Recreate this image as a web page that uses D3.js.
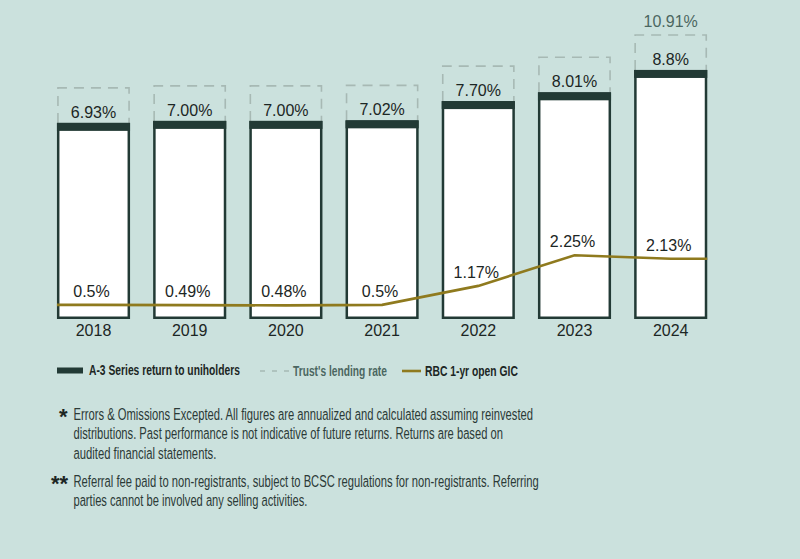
<!DOCTYPE html>
<html><head><meta charset="utf-8">
<script src="https://cdn.jsdelivr.net/npm/d3@7"></script>
<style>
html,body{margin:0;padding:0;background:#cbe1dd;}
svg{display:block;font-family:"Liberation Sans",Arial,sans-serif;}
</style></head>
<body>
<svg id="chart" width="800" height="559"></svg>
<script>
const years = ["2018","2019","2020","2021","2022","2023","2024"];
const seriesReturn = [6.93, 7.00, 7.00, 7.02, 7.70, 8.01, 8.8];
const returnLabels = ["6.93%","7.00%","7.00%","7.02%","7.70%","8.01%","8.8%"];
const lendingRate = [null, null, null, null, null, null, 10.91];
const lendingLabels = ["","","","","","","10.91%"];
const gicRate = [0.5, 0.49, 0.48, 0.5, 1.17, 2.25, 2.13];
const gicLabels = ["0.5%","0.49%","0.48%","0.5%","1.17%","2.25%","2.13%"];
const legendItems = ["A-3 Series return to uniholders","Trust's lending rate","RBC 1-yr open GIC"];
const footnote1 = ["Errors \u0026 Omissions Excepted. All figures are annualized and calculated assuming reinvested",
  "distributions. Past performance is not indicative of future returns. Returns are based on",
  "audited financial statements."];
const footnote2 = ["Referral fee paid to non-registrants, subject to BCSC regulations for non-registrants. Referring",
  "parties cannot be involved any selling activities."];

const svg = d3.select("#chart");
const dark = "#223a35", gold = "#8f7a1e", dash = "#a7b9b4";

const x = d3.scaleBand().domain(years).range([45.4, 718.8]).paddingInner(0.24).paddingOuter(0.12);
const y = d3.scaleLinear().domain([0, 11]).range([319, 319 - 28.3 * 11]);
const bw = x.bandwidth();
const boxOffset = 35, sw = 2.5, capH = 8;

function fitWidth(sel, w) {
  const n = sel.node().getComputedTextLength();
  const sx = w / n, x0 = +sel.attr("x");
  sel.attr("transform", `translate(${x0},0) scale(${sx},1) translate(${-x0},0)`);
  return sel;
}

const g = svg.append("g");
const bars = g.selectAll("g.bar").data(years.map((yr, i) => ({yr, v: seriesReturn[i], lab: returnLabels[i], lr: lendingRate[i], lrl: lendingLabels[i]})))
  .enter().append("g");

bars.append("path")
  .attr("d", d => {
    const x0 = x(d.yr) + 1, x1 = x(d.yr) + bw - 1, t = y(d.v) - boxOffset, b = y(d.v);
    return `M${x0},${b}V${t}H${x1}V${b}`;
  })
  .attr("fill", "none").attr("stroke", dash).attr("stroke-width", 1.6).attr("stroke-dasharray", "10,7");

bars.append("rect")
  .attr("x", d => x(d.yr) + sw / 2).attr("width", bw - sw)
  .attr("y", d => y(d.v) + sw / 2).attr("height", d => y(0) - y(d.v) - sw)
  .attr("fill", "#fff").attr("stroke", dark).attr("stroke-width", sw);
bars.append("rect")
  .attr("x", d => x(d.yr)).attr("width", bw)
  .attr("y", d => y(d.v)).attr("height", capH)
  .attr("fill", dark);

bars.append("text")
  .attr("x", d => x(d.yr) + bw / 2).attr("y", d => y(d.v) - 5)
  .attr("text-anchor", "middle").attr("font-size", 16).attr("fill", "#1c2624")
  .text(d => d.lab);

bars.filter(d => d.lr != null).append("text")
  .attr("x", d => x(d.yr) + bw / 2).attr("y", d => y(d.v) - boxOffset - 8)
  .attr("text-anchor", "middle").attr("font-size", 16).attr("fill", "#4b6761")
  .text(d => d.lrl);

const pts = gicRate.map((v, i) => [x(years[i]) + bw / 2, y(v)]);
const full = [[x(years[0]), y(gicRate[0])], ...pts, [x(years[years.length - 1]) + bw, y(gicRate[gicRate.length - 1])]];
g.append("path").attr("d", d3.line()(full)).attr("fill", "none").attr("stroke", gold).attr("stroke-width", 2.6);

g.selectAll("text.gic").data(gicRate).enter().append("text")
  .attr("x", (v, i) => x(years[i]) + bw / 2 - 2).attr("y", v => y(v) - 8)
  .attr("text-anchor", "middle").attr("font-size", 16).attr("fill", "#1c2624")
  .text((v, i) => gicLabels[i]);

const ax = g.append("g").attr("transform", `translate(0,${y(0)})`)
  .call(d3.axisBottom(x).tickSize(0).tickPadding(6));
ax.select(".domain").remove();
ax.selectAll("text").attr("font-size", 16).attr("fill", "#1c2624").attr("font-family", "Liberation Sans, Arial, sans-serif");

// legend
const lg = svg.append("g").attr("font-weight", "bold").attr("font-size", 15);
lg.append("rect").attr("x", 57).attr("y", 367.5).attr("width", 26).attr("height", 6).attr("fill", dark);
fitWidth(lg.append("text").attr("x", 89).attr("y", 375.5).attr("fill", "#1c2624").text(legendItems[0]), 151);
lg.append("line").attr("x1", 260).attr("x2", 290).attr("y1", 371).attr("y2", 371)
  .attr("stroke", dash).attr("stroke-width", 1.6).attr("stroke-dasharray", "5,7");
fitWidth(lg.append("text").attr("x", 293).attr("y", 376).attr("fill", "#4b6761").text(legendItems[1]), 94);
lg.append("line").attr("x1", 402).attr("x2", 421).attr("y1", 371).attr("y2", 371)
  .attr("stroke", gold).attr("stroke-width", 2.6);
fitWidth(lg.append("text").attr("x", 425).attr("y", 376.5).attr("fill", "#1c2624").text(legendItems[2]), 93);

// footnotes
const fn = svg.append("g").attr("font-size", 17).attr("fill", "#2b3a37");
fn.append("text").attr("x", 67.5).attr("y", 424).attr("text-anchor", "end").attr("font-size", 22).attr("font-weight", "bold").attr("fill", "#1c2624").text("*");
fn.append("text").attr("x", 68).attr("y", 491).attr("text-anchor", "end").attr("font-size", 22).attr("font-weight", "bold").attr("fill", "#1c2624").text("**");
const fn1W = [460, 430, 143];
footnote1.forEach((t, i) => fitWidth(fn.append("text").attr("x", 73.5).attr("y", 420 + i * 19.5).text(t), fn1W[i]));
const fn2W = [466, 234];
footnote2.forEach((t, i) => fitWidth(fn.append("text").attr("x", 73.5).attr("y", 487 + i * 19).text(t), fn2W[i]));
</script>
</body></html>
